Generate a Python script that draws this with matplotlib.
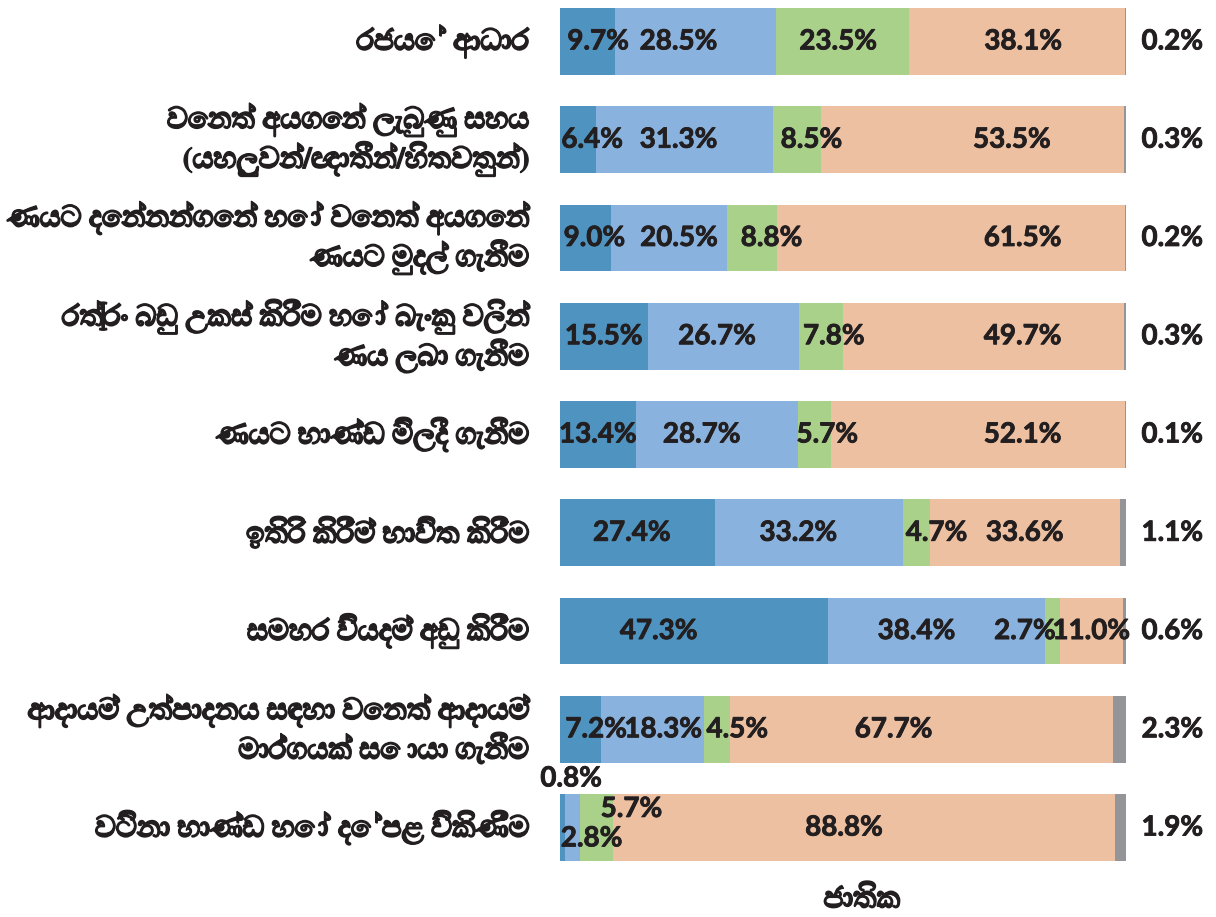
import matplotlib
matplotlib.use("Agg")
import matplotlib.pyplot as plt
from matplotlib import font_manager as fm
from matplotlib import patheffects as pe
from matplotlib.ft2font import FT2Font

# ---------------- data ----------------
categories = [
    "රජයේ ආධාර",
    "වෙනත් අයගෙන් ලැබුණු සහය\n(යහලුවන්/ඥාතීන්/හිතවතුන්)",
    "ණයට දෙන්නන්ගෙන් හෝ වෙනත් අයගෙන්\nණයට මුදල් ගැනීම",
    "රත්‍රං බඩු උකස් කිරීම හෝ බැංකු වලින්\nණය ලබා ගැනීම",
    "ණයට භාණ්ඩ මිලදී ගැනීම",
    "ඉතිරි කිරීම් භාවිත කිරීම",
    "සමහර වියදම් අඩු කිරීම",
    "ආදායම් උත්පාදනය සඳහා වෙනත් ආදායම්\nමාර්ගයක් සොයා ගැනීම",
    "වටිනා භාණ්ඩ හෝ දේපළ විකිණීම",
]
series1 = [9.7, 6.4, 9.0, 15.5, 13.4, 27.4, 47.3, 7.2, 0.8]
series2 = [28.5, 31.3, 20.5, 26.7, 28.7, 33.2, 38.4, 18.3, 2.8]
series3 = [23.5, 8.5, 8.8, 7.8, 5.7, 4.7, 2.7, 4.5, 5.7]
series4 = [38.1, 53.5, 61.5, 49.7, 52.1, 33.6, 11.0, 67.7, 88.8]
series5 = [0.2, 0.3, 0.2, 0.3, 0.1, 1.1, 0.6, 2.3, 1.9]
xlabel = "ජාතික"

# ---------------- style / layout ----------------
colors = ["#4F94C1", "#89B3DE", "#A9D18A", "#EDC0A2", "#939598"]
text_color = "#231F20"

# label offsets (percent units / row units) relative to segment centres
label_dx = [
    [1.9, -3.0, -0.8, 1.1],
    [2.5, -1.1, 2.5, 6.9],
    [1.6, 1.8, 3.5, 12.7],
    [0.0, -1.1, 2.3, 6.9],
    [0.0, -2.7, 2.3, 7.9],
    [-1.0, -1.9, 3.6, 0.0],
    [-6.2, -3.5, -4.9, 0.0],
    [2.8, 1.9, 3.6, -4.9],
    [1.6, 3.4, 6.2, -3.5],
]
label_dy = [[0, 0, 0, 0] for _ in range(9)]
label_dy[8] = [-0.5, 0.11, -0.19, 0]


def find_sinhala_font():
    best = None
    seen = set()
    paths = [f.fname for f in fm.fontManager.ttflist]
    try:
        paths += fm.findSystemFonts()
    except Exception:
        pass
    for p in paths:
        if p in seen:
            continue
        seen.add(p)
        try:
            ft = FT2Font(p)
            cmap = ft.get_charmap()
        except Exception:
            continue
        if 0x0DBB in cmap and 0x0DCA in cmap:
            try:
                prop = fm.FontProperties(fname=p)
                name = prop.get_name()
            except Exception:
                continue
            bold = "bold" in p.lower() or "Bold" in ft.style_name
            if best is None or (bold and not best[1]):
                best = (name, bold, p)
    return best


sin = find_sinhala_font()
if sin is not None:
    try:
        fm.fontManager.addfont(sin[2])
    except Exception:
        pass
    sin_family = [sin[0], "DejaVu Sans"]
else:
    sin_family = ["DejaVu Sans"]

sin_effects = [pe.withStroke(linewidth=1.0, foreground=text_color)]
num_family = ["Lato", "DejaVu Sans"]
num_effects = [pe.withStroke(linewidth=0.6, foreground=text_color)]

fig = plt.figure(figsize=(12.16, 9.17), dpi=100)
ax = fig.add_axes([560 / 1216, 1 - 861 / 917, 566 / 1216, 853 / 917])

n = len(categories)
ypos = list(range(n))
series = [series1, series2, series3, series4, series5]
left = [0.0] * n
for si, vals in enumerate(series):
    ax.barh(ypos, vals, left=left, height=0.68, color=colors[si], edgecolor="none")
    if si < 4:
        for i in range(n):
            cx = left[i] + vals[i] / 2 + label_dx[i][si]
            cy = ypos[i] + label_dy[i][si]
            ax.text(cx, cy, f"{vals[i]:.1f}%", ha="center", va="center",
                    fontsize=20, fontweight="bold", color=text_color,
                    family=num_family, path_effects=num_effects)
    else:
        for i in range(n):
            ax.text(108.2, ypos[i], f"{vals[i]:.1f}%", ha="center", va="center",
                    fontsize=20, fontweight="bold", color=text_color,
                    family=num_family, clip_on=False, path_effects=num_effects)
    left = [l + v for l, v in zip(left, vals)]

ax.set_xlim(0, 100)
ax.set_ylim(n - 1 + 0.34, -0.34)
ax.axis("off")

for i, cat in enumerate(categories):
    ax.annotate(cat, xy=(0, ypos[i]), xycoords=("axes fraction", "data"),
                xytext=(-31, 0), textcoords="offset pixels",
                ha="right", va="center", fontsize=21, fontweight="bold",
                color=text_color, family=sin_family, linespacing=1.2,
                multialignment="right", path_effects=sin_effects)

fig.text(862 / 1216, 1 - 900 / 917, xlabel, ha="center", va="center",
         fontsize=21, fontweight="bold", color=text_color, family=sin_family,
         path_effects=sin_effects)

fig.savefig("out.png", dpi=100, facecolor="white")
